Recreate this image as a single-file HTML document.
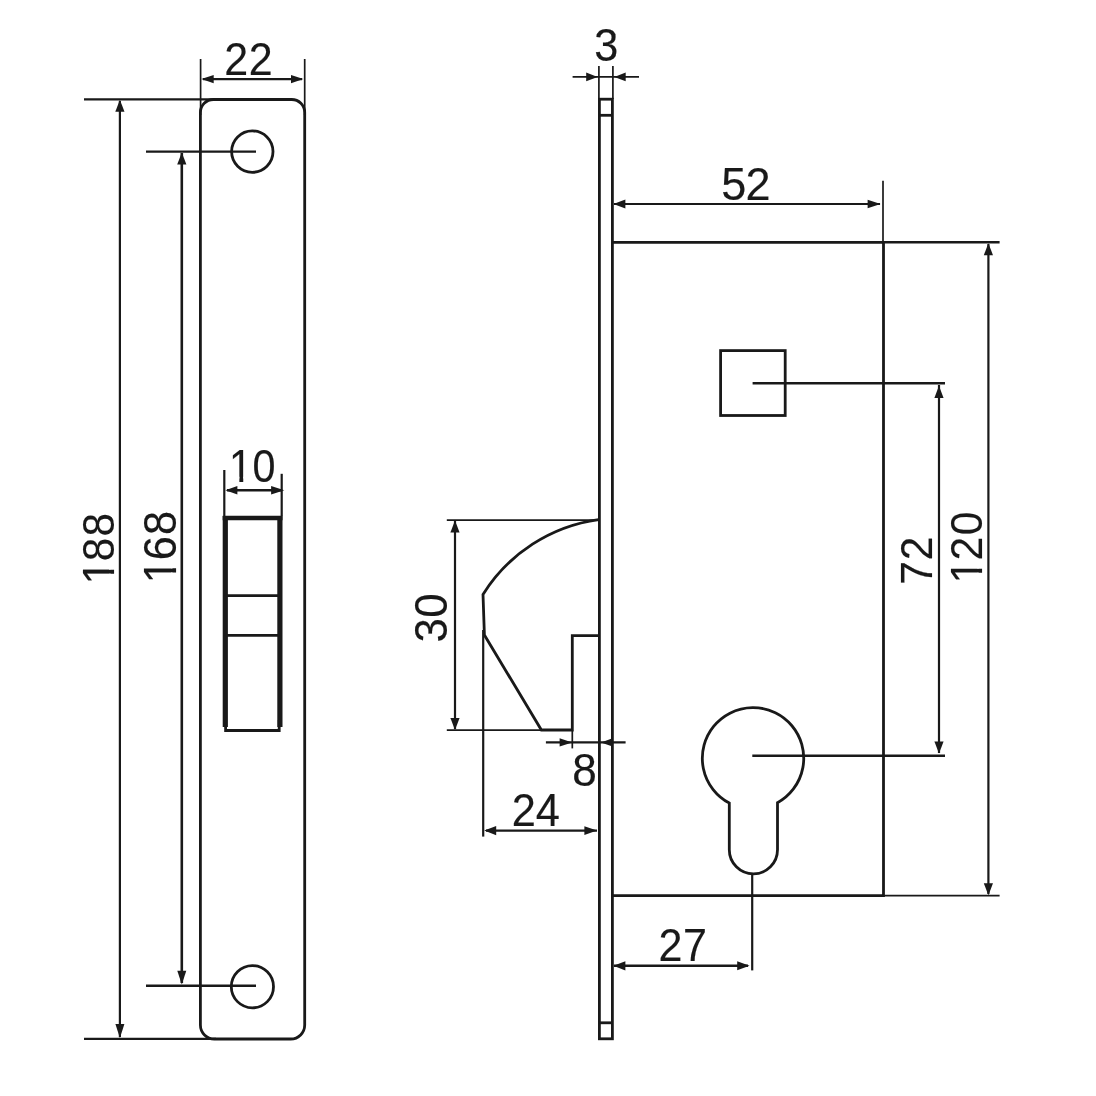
<!DOCTYPE html>
<html lang="en">
<head>
<meta charset="utf-8">
<title>Hook lock technical drawing</title>
<style>
html,body{margin:0;padding:0;background:#fff;}
body{width:1096px;height:1096px;overflow:hidden;}
svg{display:block;filter:grayscale(1);}
.m{fill:none;stroke:#191919;stroke-width:2.8;stroke-linejoin:miter;}
.k{fill:none;stroke:#191919;stroke-width:5.2;stroke-linejoin:miter;}
.k2{fill:none;stroke:#191919;stroke-width:4.4;}
.v{fill:none;stroke:#191919;stroke-width:2.6;}
.c{fill:none;stroke:#191919;stroke-width:2.4;}
.t{fill:none;stroke:#191919;stroke-width:2.2;}
.e{fill:none;stroke:#191919;stroke-width:1.7;}
.a{fill:#191919;stroke:none;}
text{font-family:"Liberation Sans",sans-serif;font-size:45.5px;fill:#191919;stroke:#191919;stroke-width:0.15px;text-anchor:start;}
</style>
</head>
<body>
<svg width="1096" height="1096" viewBox="0 0 1096 1096">
<defs><clipPath id="one"><path clip-rule="evenodd" d="M-20 -60 H120 V30 H-20 Z M1.47 -4.60 H11.32 V6 H1.47 Z M15.59 -4.60 H25.08 V6 H15.59 Z"/></clipPath></defs>
<rect x="0" y="0" width="1096" height="1096" fill="#ffffff"/>
<!-- front view: faceplate -->
<path class="m" d="M213.4 99.5 H291.7 A13 13 0 0 1 304.7 112.5 V1025.0 A14 14 0 0 1 290.7 1039.0 H214.4 A14 14 0 0 1 200.4 1025.0 V112.5 A13 13 0 0 1 213.4 99.5 Z"/>
<line class="e" x1="200.6" y1="59.0" x2="200.6" y2="115.0"/>
<line class="e" x1="304.7" y1="59.0" x2="304.7" y2="115.0"/>
<line class="c" x1="203.0" y1="79.1" x2="302.0" y2="79.1"/>
<polygon class="a" points="201.3,79.1 213.7,74.9 213.7,83.3"/>
<polygon class="a" points="303.4,79.1 291.0,74.9 291.0,83.3"/>
<text transform="translate(224.23 74.50) scale(0.9458 0.9956)" x="0.00 26.06" y="0">22</text>
<line class="t" x1="84.0" y1="99.3" x2="215.0" y2="99.3"/>
<line class="t" x1="84.0" y1="1038.8" x2="216.0" y2="1038.8"/>
<line class="t" x1="119.9" y1="101.0" x2="119.9" y2="1037.0"/>
<polygon class="a" points="119.9,99.8 115.3,111.8 124.5,111.8"/>
<polygon class="a" points="119.9,1038.0 115.4,1024.0 124.4,1024.0"/>
<text transform="translate(113.60 584.29) rotate(-90) scale(0.9323 0.9813)" x="0.00 24.67 51.38" y="0" clip-path="url(#one)">188</text>
<circle class="m" cx="252.3" cy="151.6" r="20.7"/>
<circle class="m" cx="252.4" cy="986.7" r="21.1"/>
<line class="c" x1="146.0" y1="151.6" x2="256.0" y2="151.6"/>
<line class="c" x1="146.0" y1="985.8" x2="256.0" y2="985.8"/>
<line class="v" x1="181.8" y1="153.0" x2="181.8" y2="983.0"/>
<polygon class="a" points="181.8,152.4 177.2,164.4 186.4,164.4"/>
<polygon class="a" points="181.8,984.4 177.3,970.8 186.3,970.8"/>
<text transform="translate(175.70 583.21) rotate(-90) scale(0.9521 1.0022)" x="0.00 24.07 50.59" y="0" clip-path="url(#one)">168</text>
<!-- bolt slot -->
<path class="k" d="M225.3 727 V516 M279.9 727 V516"/>
<line class="k2" x1="222.7" y1="518.0" x2="282.5" y2="518.0"/>
<path class="m" d="M225.6 720 V730.5 H279.2 V720"/>
<line class="m" x1="226.0" y1="595.6" x2="279.0" y2="595.6"/>
<line class="m" x1="226.0" y1="635.3" x2="279.0" y2="635.3"/>
<line class="t" x1="224.3" y1="470.0" x2="224.3" y2="516.0"/>
<line class="t" x1="281.7" y1="473.8" x2="281.7" y2="516.0"/>
<line class="c" x1="227.0" y1="490.2" x2="282.0" y2="490.2"/>
<polygon class="a" points="225.4,490.2 237.4,485.9 237.4,494.5"/>
<polygon class="a" points="284.3,490.2 271.1,485.9 271.1,494.5"/>
<text transform="translate(229.09 481.50) scale(0.9079 1.0088)" x="0.00 25.80" y="0" clip-path="url(#one)">10</text>
<!-- side view: faceplate -->
<rect class="m" x="599.4" y="99.2" width="13.0" height="939.6"/>
<line class="m" x1="599.4" y1="115.3" x2="612.4" y2="115.3"/>
<line class="m" x1="599.4" y1="1022.8" x2="612.4" y2="1022.8"/>
<line class="e" x1="598.9" y1="66.0" x2="598.9" y2="99.0"/>
<line class="e" x1="612.9" y1="66.0" x2="612.9" y2="99.0"/>
<line class="e" x1="572.6" y1="76.9" x2="639.0" y2="76.9"/>
<polygon class="a" points="597.6,76.9 586.2,72.5 586.2,81.3"/>
<polygon class="a" points="614.3,76.9 625.7,72.5 625.7,81.3"/>
<text transform="translate(594.26 60.50) scale(0.9500 1.0000)" x="0.00" y="0">3</text>
<!-- lock case -->
<path class="m" d="M612.4 242.3 H883.5 V895.7 H612.4"/>
<line class="e" x1="883.0" y1="180.7" x2="883.0" y2="242.3"/>
<line class="t" x1="614.0" y1="204.0" x2="880.0" y2="204.0"/>
<polygon class="a" points="613.4,204.0 625.4,199.4 625.4,208.6"/>
<polygon class="a" points="880.6,204.0 867.6,199.7 867.6,208.3"/>
<text transform="translate(721.15 200.00) scale(0.9913 1.0220)" x="0.00 24.57" y="0">52</text>
<rect class="m" x="720.6" y="350.6" width="64.6" height="64.9"/>
<line class="c" x1="752.6" y1="383.2" x2="945.0" y2="383.2"/>
<line class="t" x1="939.0" y1="385.0" x2="939.0" y2="753.0"/>
<polygon class="a" points="939.0,385.8 934.4,398.0 943.6,398.0"/>
<polygon class="a" points="939.0,753.6 934.4,741.6 943.6,741.6"/>
<text transform="translate(932.30 584.68) rotate(-90) scale(0.9291 0.9780)" x="0.00 26.39" y="0">72</text>
<line class="c" x1="883.5" y1="242.3" x2="999.6" y2="242.3"/>
<line class="e" x1="883.5" y1="895.7" x2="999.6" y2="895.7"/>
<line class="t" x1="988.4" y1="244.0" x2="988.4" y2="894.0"/>
<polygon class="a" points="988.4,243.2 983.8,255.2 993.0,255.2"/>
<polygon class="a" points="988.4,895.2 983.8,883.2 993.0,883.2"/>
<text transform="translate(982.00 583.36) rotate(-90) scale(0.9375 0.9868)" x="0.00 24.43 51.41" y="0" clip-path="url(#one)">120</text>
<!-- euro cylinder cut-out -->
<path class="m" d="M729.3 803.1 A50.7 50.7 0 1 1 777.5 802.7 V849.8 A24.10 24.10 0 0 1 729.3 849.8 Z"/>
<line class="c" x1="752.3" y1="755.8" x2="945.0" y2="755.8"/>
<line class="t" x1="752.2" y1="874.0" x2="752.2" y2="970.4"/>
<line class="c" x1="614.0" y1="965.8" x2="748.0" y2="965.8"/>
<polygon class="a" points="613.4,965.8 625.4,961.2 625.4,970.4"/>
<polygon class="a" points="749.6,965.8 737.2,961.3 737.2,970.3"/>
<text transform="translate(658.42 960.80) scale(0.9469 0.9967)" x="0.00 25.96" y="0">27</text>
<!-- hook bolt -->
<line class="e" x1="446.8" y1="520.1" x2="598.0" y2="520.1"/>
<line class="e" x1="446.8" y1="730.2" x2="573.0" y2="730.2"/>
<path class="m" d="M598.6 519.6 A162.8 162.8 0 0 0 483.0 594.4 L484.4 635 L541.4 730.0 H572.3 V635.6 H599"/>
<line class="t" x1="483.2" y1="630.0" x2="483.2" y2="836.6"/>
<line class="t" x1="455.0" y1="521.0" x2="455.0" y2="729.0"/>
<polygon class="a" points="455.0,520.6 450.4,532.6 459.6,532.6"/>
<polygon class="a" points="455.0,730.0 450.4,718.0 459.6,718.0"/>
<text transform="translate(446.80 642.55) rotate(-90) scale(0.9627 1.0352)" x="0.00 25.84" y="0">30</text>
<line class="e" x1="572.3" y1="729.6" x2="572.3" y2="748.4"/>
<line class="t" x1="545.9" y1="742.4" x2="625.6" y2="742.4"/>
<polygon class="a" points="572.2,742.4 559.6,738.2 559.6,746.6"/>
<polygon class="a" points="601.0,742.4 612.5,738.2 612.5,746.6"/>
<text transform="translate(572.32 785.80) scale(0.9709 1.0220)" x="0.00" y="0">8</text>
<line class="t" x1="486.0" y1="830.6" x2="597.0" y2="830.6"/>
<polygon class="a" points="484.2,830.6 496.2,826.0 496.2,835.2"/>
<polygon class="a" points="597.0,830.6 584.4,826.3 584.4,834.9"/>
<text transform="translate(511.83 826.00) scale(0.9542 1.0044)" x="0.00 25.09" y="0">24</text>
</svg>
</body>
</html>
